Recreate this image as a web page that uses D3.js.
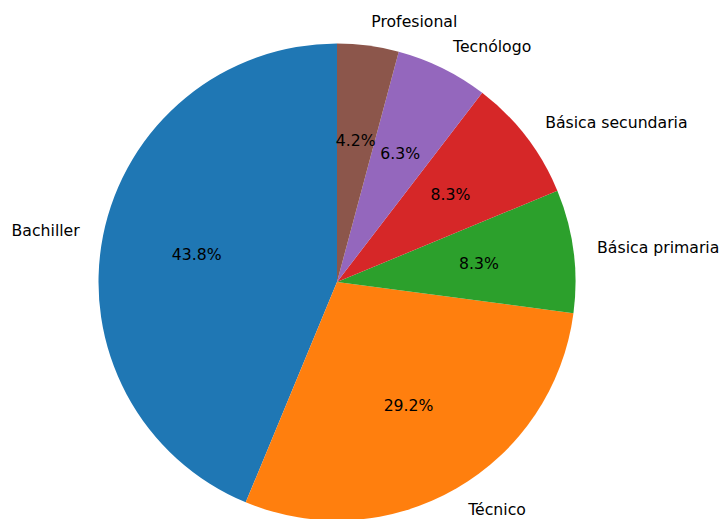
<!DOCTYPE html>
<html>
<head>
<meta charset="utf-8">
<script src="https://cdn.jsdelivr.net/npm/d3@7"></script>
<style>
  body { margin: 0; background: #fff; }
  text { font-family: "DejaVu Sans", sans-serif; font-size: 15.7px; fill: #000; }
</style>
</head>
<body>
<div id="chart"></div>
<script>
// Niveles educativos (conteos)
const categories = ['Bachiller', 'Técnico', 'Básica primaria', 'Básica secundaria', 'Tecnólogo', 'Profesional'];
const values = [21, 14, 4, 4, 3, 2];
const colors = ['#1f77b4', '#ff7f0e', '#2ca02c', '#d62728', '#9467bd', '#8c564b'];

const width = 720, height = 519;
const cx = 337, cy = 282, r = 238.5;

const svg = d3.select('#chart').append('svg')
  .attr('width', width)
  .attr('height', height);

const total = d3.sum(values);
const data = categories.map((c, i) => ({ name: c, value: values[i], color: colors[i] }));

// matplotlib style: startangle 90, counterclockwise
// d3 angles are clockwise from 12 o'clock, so go negative
const pie = d3.pie()
  .value(d => d.value)
  .sort(null)
  .startAngle(0)
  .endAngle(-2 * Math.PI);

const arcs = pie(data);
const arc = d3.arc().innerRadius(0).outerRadius(r);

const g = svg.append('g').attr('transform', `translate(${cx},${cy})`);

g.selectAll('path')
  .data(arcs)
  .enter().append('path')
    .attr('d', arc)
    .attr('fill', d => d.data.color);

function mid(d, k) {
  const a = (d.startAngle + d.endAngle) / 2;
  return [k * r * Math.sin(a), -k * r * Math.cos(a)];
}

// outer labels
g.selectAll('text.lbl')
  .data(arcs)
  .enter().append('text')
    .attr('class', 'lbl')
    .attr('x', d => mid(d, 1.1)[0])
    .attr('y', d => mid(d, 1.1)[1])
    .attr('dy', '0.35em')
    .attr('text-anchor', d => mid(d, 1.1)[0] > 0 ? 'start' : 'end')
    .text(d => d.data.name);

// percentages
g.selectAll('text.pct')
  .data(arcs)
  .enter().append('text')
    .attr('class', 'pct')
    .attr('x', d => mid(d, 0.6)[0])
    .attr('y', d => mid(d, 0.6)[1])
    .attr('dy', '0.35em')
    .attr('text-anchor', 'middle')
    .text(d => (d.value / total * 100).toFixed(1) + '%');
</script>
</body>
</html>
